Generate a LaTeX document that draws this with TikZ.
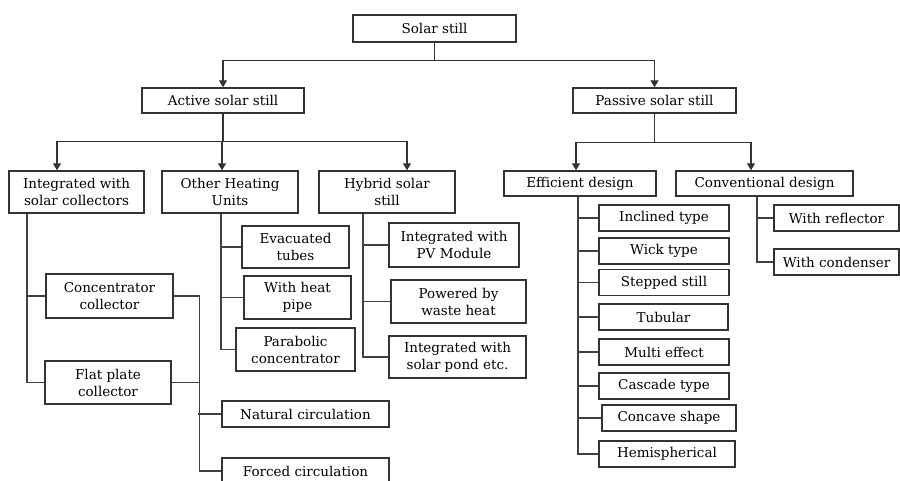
\documentclass[tikz,border=0pt]{standalone}
\usepackage{fontspec}
\setmainfont{DejaVu Serif}
\usetikzlibrary{arrows.meta, calc}

\begin{document}
\begin{tikzpicture}[
    x=1pt, y=-1pt,
    box/.style={rectangle, draw=black!80, line width=1.4pt, inner sep=0pt,
                align=center, font=\fontsize{13.5}{17}\selectfont},
    arr/.style={-{Triangle[width=8pt,length=7pt]}, line width=1.4pt, draw=black!80},
    ln/.style={line width=1.4pt, draw=black!75},
]
    \useasboundingbox (0,0) rectangle (900,481);
    \clip (0,0) rectangle (900,481);

    % top levels
    \node[box, minimum width=163pt, minimum height=27pt] (still) at (434.5,28.5) {Solar still};
    \node[box, minimum width=162pt, minimum height=25pt] (active)  at (223,100.5) {Active solar still};
    \node[box, minimum width=163pt, minimum height=25pt] (passive) at (654.5,100.5) {Passive solar still};

    \node[box, minimum width=135pt, minimum height=42pt] (collect) at (76.5,192) {Integrated with\\solar collectors};
    \node[box, minimum width=136pt, minimum height=42pt] (heating) at (230,192) {Other Heating\\Units};
    \node[box, minimum width=136pt, minimum height=42pt] (hybrid)  at (387,192) {Hybrid solar\\still};
    \node[box, minimum width=152pt, minimum height=25pt] (effic)   at (580,183.5) {Efficient design};
    \node[box, minimum width=177pt, minimum height=25pt] (conv)    at (764.5,183.5) {Conventional design};

    % active branches
    \node[box, minimum width=127pt, minimum height=44pt] (concen) at (109.5,296) {Concentrator\\collector};
    \node[box, minimum width=126pt, minimum height=43pt] (flat)   at (108,382.5) {Flat plate\\collector};
    \node[box, minimum width=167pt, minimum height=26pt] (natural) at (305.5,414) {Natural circulation};
    \node[box, minimum width=167pt, minimum height=26pt] (forced)  at (305.5,471) {Forced circulation};

    \node[box, minimum width=107pt, minimum height=42pt] (evac)  at (295.5,247) {Evacuated\\tubes};
    \node[box, minimum width=107pt, minimum height=43pt] (pipe)  at (297.5,297.5) {With heat\\pipe};
    \node[box, minimum width=119pt, minimum height=43pt] (parab) at (295.5,349.5) {Parabolic\\concentrator};

    \node[box, minimum width=130pt, minimum height=44pt] (pvmod) at (454,245) {Integrated with\\PV Module};
    \node[box, minimum width=135pt, minimum height=43pt] (waste) at (458.5,301.5) {Powered by\\waste heat};
    \node[box, minimum width=137pt, minimum height=42pt] (pond)  at (457.5,357) {Integrated with\\solar pond etc.};

    % passive branches
    \node[box, minimum width=130pt, minimum height=26pt] (incl)   at (664,218) {Inclined type};
    \node[box, minimum width=130pt, minimum height=26pt] (wick)   at (664,251) {Wick type};
    \node[box, minimum width=130pt, minimum height=26pt] (stepd)  at (664,282.5) {Stepped still};
    \node[box, minimum width=129pt, minimum height=26pt] (tubul)  at (663.5,317) {Tubular};
    \node[box, minimum width=130pt, minimum height=26pt] (multi)  at (664,352) {Multi effect};
    \node[box, minimum width=130pt, minimum height=26pt] (casc)   at (664,386) {Cascade type};
    \node[box, minimum width=134pt, minimum height=26pt] (concav) at (669,418) {Concave shape};
    \node[box, minimum width=136pt, minimum height=26pt] (hemi)   at (667,454) {Hemispherical};

    \node[box, minimum width=125pt, minimum height=26pt] (reflect) at (836.5,218) {With reflector};
    \node[box, minimum width=125pt, minimum height=26pt] (condens) at (836.5,262) {With condenser};

    % arrows
    \draw[arr] (still.south) -- ++(0,18) -| (active.north);
    \draw[arr] (still.south) -- ++(0,18) -| (passive.north);
    \draw[arr] (active.south) -- ++(0,28) -| ([xshift=-19.5pt]collect.north);
    \draw[arr] (active.south) -- ++(0,28) -| ([xshift=-8pt]heating.north);
    \draw[arr] (active.south) -- ++(0,28) -| ([xshift=20pt]hybrid.north);
    \draw[arr] (passive.south) -- ++(0,29) -| ([xshift=-4pt]effic.north);
    \draw[arr] (passive.south) -- ++(0,29) -| ([xshift=-13.5pt]conv.north);

    % tree lines
    \foreach \c in {concen, flat}
        \draw[ln] ([xshift=-49.5pt]collect.south) |- (\c.west);
    \foreach \c in {evac, pipe, parab}
        \draw[ln] ([xshift=-9pt]heating.south) |- (\c.west);
    \foreach \c in {pvmod, waste, pond}
        \draw[ln] ([xshift=-24pt]hybrid.south) |- (\c.west);
    \foreach \c in {incl, wick, stepd, tubul, multi, casc, concav, hemi}
        \draw[ln] ([xshift=-2pt]effic.south) |- (\c.west);
    \foreach \c in {reflect, condens}
        \draw[ln] ([xshift=-7.5pt]conv.south) |- (\c.west);

    \draw[ln] (concen.east) -- ++(26,0) |- (forced.west);
    \draw[ln] (flat.east) -- ++(28,0);
    \draw[ln] (natural.west) -- ++(-23,0);
\end{tikzpicture}
\end{document}
